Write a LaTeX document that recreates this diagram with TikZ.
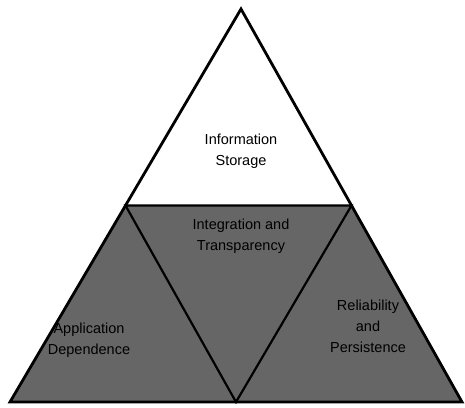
\documentclass[tikz,border=0pt]{standalone}
\usepackage{fontspec}
\setmainfont{Liberation Sans}
\begin{document}
\begin{tikzpicture}[x=1pt,y=-1pt,
  edge/.style={line width=2.8pt,line join=miter},
  inner/.style={line width=2.2pt},
  region/.style={fill=black!60},
  lbl/.style={align=center,font=\fontsize{14.5}{21}\selectfont,text=black}]
\useasboundingbox (0,0) rectangle (465,407);
% corners of the outer triangle and midpoints of its sides
\coordinate (apex) at (241,9);
\coordinate (bl) at (10,402);
\coordinate (br) at (462,402);
\coordinate (ml) at (125.5,205.5);
\coordinate (mr) at (351.5,205.5);
\coordinate (mb) at (236,402);
% shaded lower band
\fill[region] (ml) -- (mr) -- (br) -- (bl) -- cycle;
% inverted inner triangle
\draw[inner] (ml) -- (mr) -- (mb) -- cycle;
% outer triangle
\draw[edge] (apex) -- (br) -- (bl) -- cycle;
% labels
\node[lbl] (store) at (241,151) {Information\\Storage};
\node[lbl] (integ) at (241,236) {Integration and\\Transparency};
\node[lbl] (appdep) at (89,340) {Application\\Dependence};
\node[lbl] (relpers) at (368,326) {Reliability\\and\\Persistence};
\end{tikzpicture}
\end{document}
